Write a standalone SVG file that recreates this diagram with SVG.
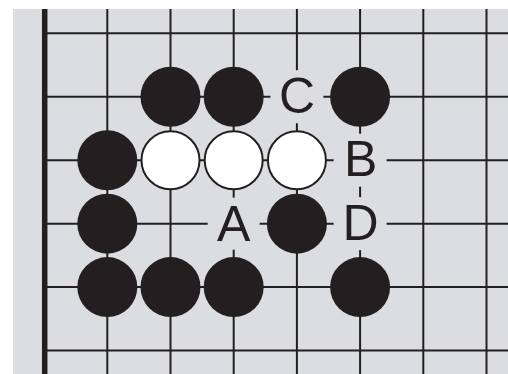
<svg xmlns="http://www.w3.org/2000/svg" width="508" height="374" viewBox="0 0 508 374">
<style>
.ln{stroke:#231f20;stroke-width:2;fill:none}
.b{fill:#231f20}
.w{fill:#fff;stroke:#231f20;stroke-width:2}
.gap{fill:#dcdde0}
.lbl{font-family:"Liberation Sans",Arial,sans-serif;font-size:50px;fill:#231f20;text-anchor:middle}
</style>
<rect x="13" y="9" width="495" height="365" fill="#dcdde0"/>
<g id="grid">
<line class="ln" x1="44.7" y1="33.3" x2="508" y2="33.3"/>
<line class="ln" x1="44.7" y1="96.75" x2="508" y2="96.75"/>
<line class="ln" x1="44.7" y1="160.2" x2="508" y2="160.2"/>
<line class="ln" x1="44.7" y1="223.65" x2="508" y2="223.65"/>
<line class="ln" x1="44.7" y1="287.1" x2="508" y2="287.1"/>
<line class="ln" x1="44.7" y1="350.55" x2="508" y2="350.55"/>
<line class="ln" x1="107.3" y1="9" x2="107.3" y2="374"/>
<line class="ln" x1="170.5" y1="9" x2="170.5" y2="374"/>
<line class="ln" x1="233.7" y1="9" x2="233.7" y2="374"/>
<line class="ln" x1="296.9" y1="9" x2="296.9" y2="374"/>
<line class="ln" x1="360.1" y1="9" x2="360.1" y2="374"/>
<line class="ln" x1="423.3" y1="9" x2="423.3" y2="374"/>
<line class="ln" x1="486.5" y1="9" x2="486.5" y2="374"/>
<line x1="44.7" y1="9" x2="44.7" y2="374" stroke="#231f20" stroke-width="5.5"/>
</g>
<g id="stone-b1"><circle class="b" cx="170.5" cy="96.75" r="30"/></g>
<g id="stone-b2"><circle class="b" cx="233.7" cy="96.75" r="30"/></g>
<g id="stone-b3"><circle class="b" cx="360.1" cy="96.75" r="30"/></g>
<g id="stone-b4"><circle class="b" cx="107.3" cy="160.2" r="30"/></g>
<g id="stone-w1"><circle class="w" cx="170.5" cy="160.2" r="29"/></g>
<g id="stone-w2"><circle class="w" cx="233.7" cy="160.2" r="29"/></g>
<g id="stone-w3"><circle class="w" cx="296.9" cy="160.2" r="29"/></g>
<g id="stone-b5"><circle class="b" cx="107.3" cy="223.65" r="30"/></g>
<g id="stone-b6"><circle class="b" cx="296.9" cy="223.65" r="30"/></g>
<g id="stone-b7"><circle class="b" cx="107.3" cy="287.1" r="30"/></g>
<g id="stone-b8"><circle class="b" cx="170.5" cy="287.1" r="30"/></g>
<g id="stone-b9"><circle class="b" cx="233.7" cy="287.1" r="30"/></g>
<g id="stone-b10"><circle class="b" cx="360.1" cy="287.1" r="30"/></g>
<g id="label-C"><rect class="gap" x="270.4" y="70.25" width="53" height="53"/><text class="lbl" x="297" y="112.5">C</text></g>
<g id="label-B"><rect class="gap" x="333.6" y="133.7" width="53" height="53"/><text class="lbl" x="360.6" y="176.2">B</text></g>
<g id="label-A"><rect class="gap" x="207.7" y="197.65" width="52" height="52"/><text class="lbl" x="233.7" y="240.5">A</text></g>
<g id="label-D"><rect class="gap" x="333.6" y="197.15" width="53" height="53"/><text class="lbl" x="360.6" y="239.5">D</text></g>
</svg>
